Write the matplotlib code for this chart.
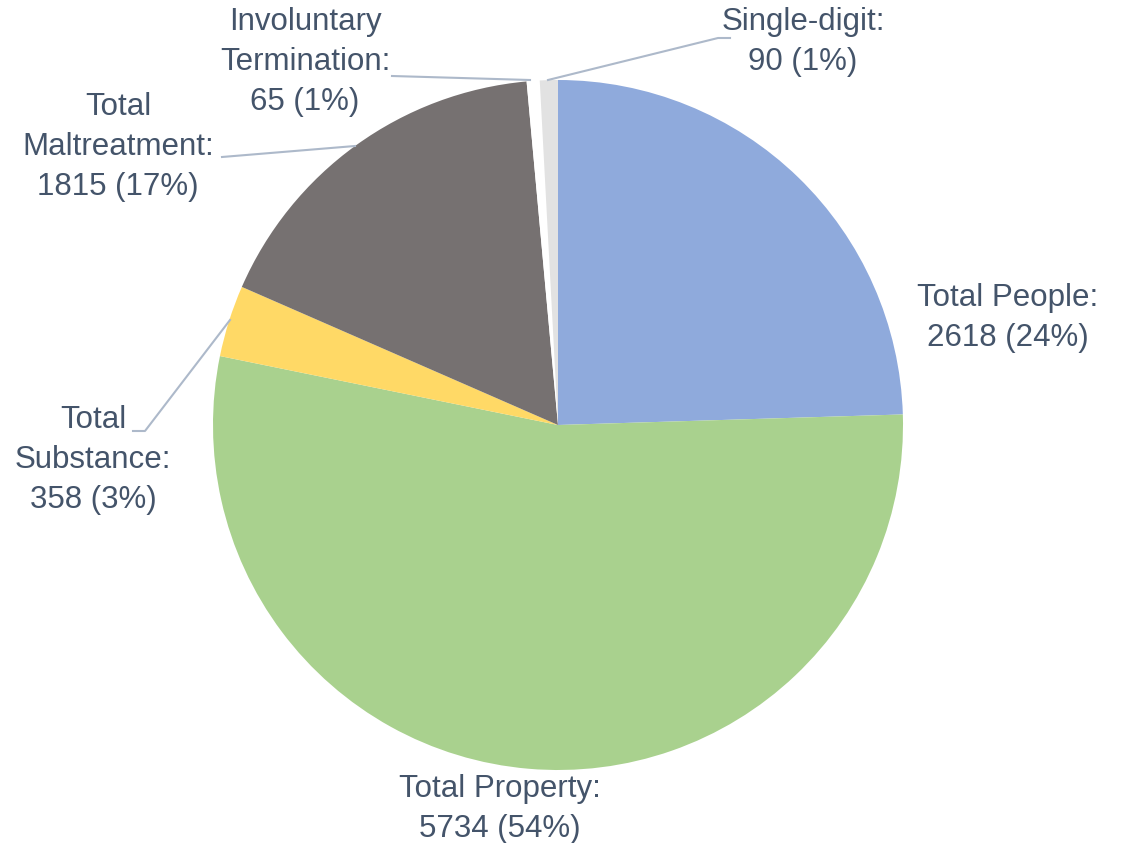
import matplotlib.pyplot as plt

labels = ['Total People', 'Total Property', 'Total Substance',
          'Total Maltreatment', 'Involuntary Termination', 'Single-digit']
values = [2618, 5734, 358, 1815, 65, 90]
pcts = [24, 54, 3, 17, 1, 1]
colors = ['#8FAADC', '#A9D18E', '#FFD966', '#767171', '#FFFFFF', '#E2E2E2']

TXT = '#44546A'
LEAD = '#ADB9CA'

fig = plt.figure(figsize=(11.22, 8.43), dpi=100)
ax = fig.add_axes([0, 0, 1, 1])

cx, cy, r = 558, 843 - 425, 345
ax.pie(values, colors=colors, startangle=90, counterclock=False,
       center=(cx, cy), radius=r, frame=True,
       wedgeprops=dict(linewidth=0))
ax.set_xlim(0, 1122)
ax.set_ylim(0, 843)
ax.set_aspect('equal')
ax.axis('off')

def lab(i, text_lines):
    return '\n'.join(text_lines + ['%d (%d%%)' % (values[i], pcts[i])])

kw = dict(fontsize=22.5, color=TXT, ha='center', va='center', linespacing=1.45,
          family='Liberation Sans')

# label text positions (y from top)
ax.text(1008, 843 - 318, lab(0, ['Total People:']), **kw)
ax.text(500, 843 - 809, lab(1, ['Total Property:']), **kw)
ax.text(93, 843 - 460, lab(2, ['Total', 'Substance:']), **kw)
ax.text(118, 843 - 147, lab(3, ['Total', 'Maltreatment:']), **kw)
ax.text(305, 843 - 62, lab(4, ['Involuntary', 'Termination:']), **kw)
ax.text(803, 843 - 42, lab(5, ['Single-digit:']), **kw)

# leader lines
lines = [
    ([548, 718, 730], [80, 38, 38]),
    ([392, 530], [76, 80]),
    ([222, 355], [157, 146]),
    ([133, 145, 230], [431, 431, 320]),
]
for xs, ys in lines:
    ax.plot(xs, [843 - y for y in ys], color=LEAD, lw=1.5)

fig.savefig('out.png', dpi=100)
